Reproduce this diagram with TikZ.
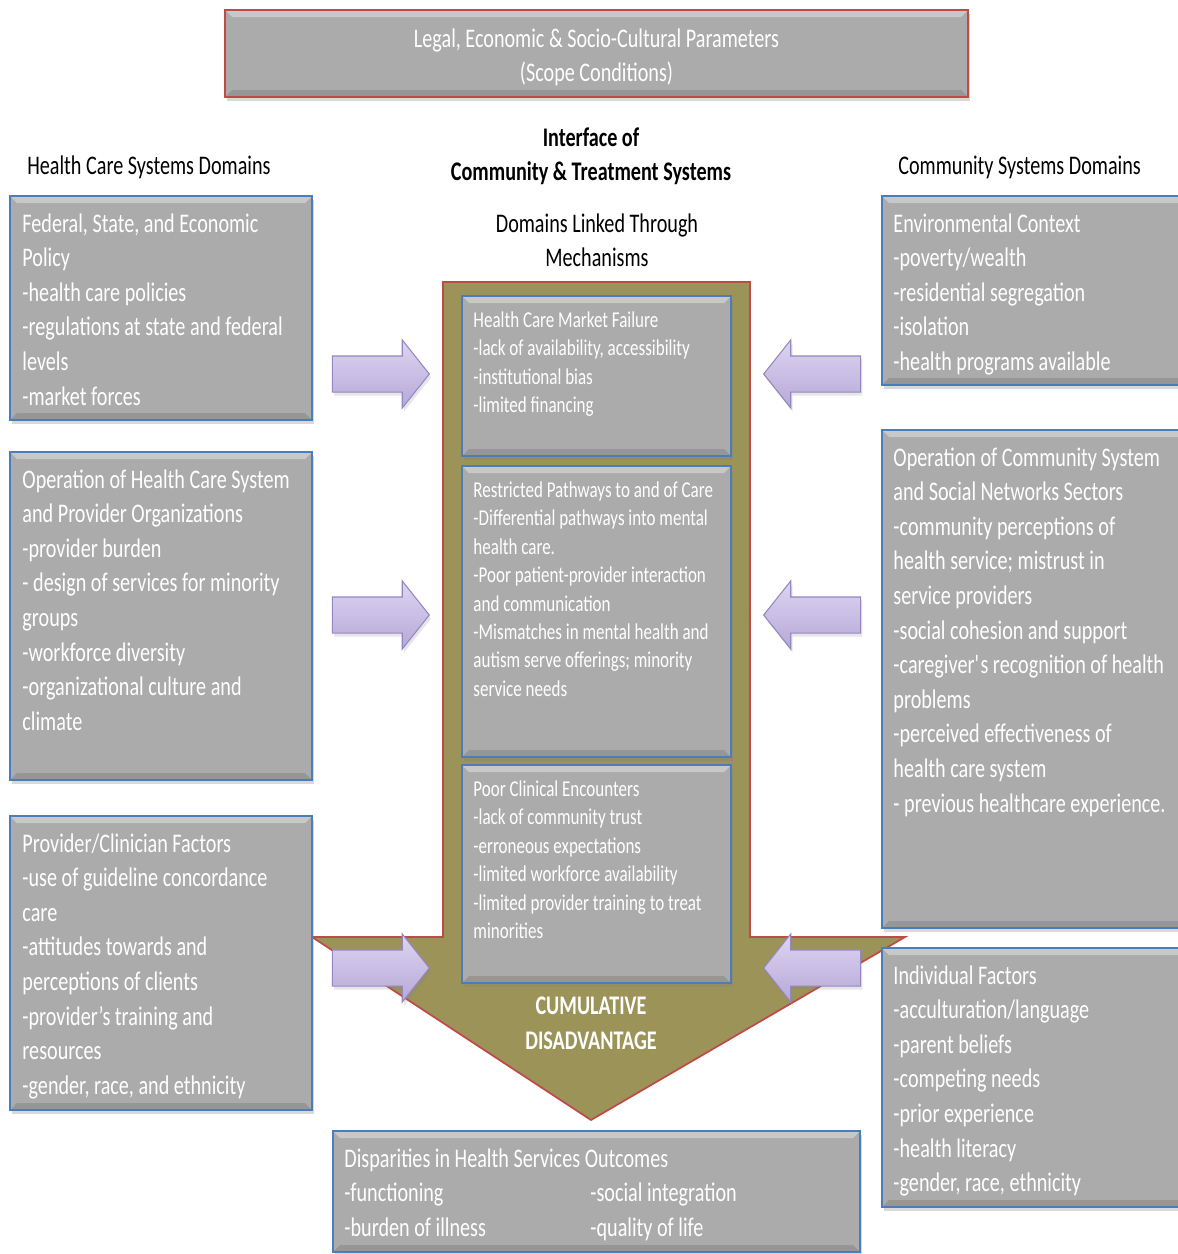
\documentclass[tikz,border=0pt]{standalone}
\usepackage{fontspec}
\setmainfont{Carlito}[FakeStretch=0.75]
\usetikzlibrary{shapes.arrows, positioning, fit, shadows}

\definecolor{boxgray}{HTML}{ABABAB}
\definecolor{boxblue}{HTML}{4A7EBB}
\definecolor{edgered}{HTML}{BE4B48}
\definecolor{cumolive}{HTML}{9C9358}
\definecolor{lilac}{HTML}{B6A8D8}
\definecolor{lilaclight}{HTML}{DDD5F0}
\definecolor{lilacedge}{HTML}{9586C2}

\newcommand{\bodyfont}{\fontsize{15.3}{19.7}\selectfont}
\newcommand{\mechfont}{\fontsize{12.9}{16.2}\selectfont}

\begin{document}
\begin{tikzpicture}[
    x=0.02cm, y=-0.02cm,
    bevel/.style={path picture={
        \fill[white, opacity=.35] (path picture bounding box.north west) -- (path picture bounding box.north east)
          -- ([shift={(-7,7)}]path picture bounding box.north east) -- ([shift={(7,7)}]path picture bounding box.north west) -- cycle;
        \fill[black, opacity=.12] (path picture bounding box.south west) -- (path picture bounding box.south east)
          -- ([shift={(-7,-7)}]path picture bounding box.south east) -- ([shift={(7,-7)}]path picture bounding box.south west) -- cycle;
      }},
    domainbox/.style={draw=boxblue, line width=1pt, fill=boxgray, inner sep=0pt, bevel,
      drop shadow={shadow xshift=1pt, shadow yshift=-2.5pt, opacity=.3}},
    scopebox/.style={domainbox, draw=edgered},
    bodytxt/.style={text=white, font=\bodyfont, align=left, inner sep=0pt, execute at begin node=\strut},
    mechtxt/.style={bodytxt, font=\mechfont},
    heading/.style={font=\bodyfont, inner sep=0pt, anchor=base west},
    titletxt/.style={font=\bodyfont, align=center, inner sep=0pt, anchor=north, execute at begin node=\strut},
    feed/.style={single arrow, anchor=tip, draw=lilacedge, line width=.6pt, top color=lilaclight, bottom color=lilac,
      minimum height=1.94cm, inner xsep=0pt, inner ysep=.35cm, single arrow head extend=.32cm,
      single arrow tip angle=103, drop shadow={shadow xshift=1pt, shadow yshift=-2pt, opacity=.2}},
    cumarrow/.style={fill=cumolive, draw=edgered, line width=1pt},
  ]
  \useasboundingbox (0,0) rectangle (1177,1254);

  % scope conditions
  \node[scopebox, fit={(225,10) (968,97)}] (scope) {};
  \node[bodytxt, align=center, anchor=north, below=.38cm of scope.north] (scopetxt)
    {Legal, Economic \& Socio-Cultural Parameters\\(Scope Conditions)};

  \node[heading] (hcsd) at (27,174) {Health Care Systems Domains};
  \node[heading] (csd) at (898,174) {Community Systems Domains};
  \node[titletxt, font=\bodyfont\bfseries] (iface) at (591,127) {Interface of\\Community \& Treatment Systems};
  \node[titletxt] (linked) at (597,213) {Domains Linked Through\\Mechanisms};

  % big arrow with the mechanisms
  \draw[cumarrow] (443,282) -- (750,282) -- (750,937) -- (905,937) -- (591,1120) -- (312,937) -- (443,937) -- cycle;
  \node[titletxt, font=\bodyfont\bfseries, text=white] (cumlabel) at (591,997) {CUMULATIVE\\DISADVANTAGE};

  \node[domainbox, fit={(462,296) (731,456)}] (failure) {};
  \node[mechtxt, below right=.32cm and .24cm of failure.north west] (failuretxt)
    {Health Care Market Failure\\-lack of availability, accessibility\\-institutional bias\\-limited financing};
  \node[domainbox, fit={(462,466) (731,757)}] (pathways) {};
  \node[mechtxt, below right=.32cm and .24cm of pathways.north west] (pathwaystxt)
    {Restricted Pathways to and of Care\\-Differential pathways into mental\\health care.\\-Poor patient-provider interaction\\and communication\\-Mismatches in mental health and\\autism serve offerings; minority\\service needs};
  \node[domainbox, fit={(462,765) (731,983)}] (encounters) {};
  \node[mechtxt, below right=.32cm and .24cm of encounters.north west] (encounterstxt)
    {Poor Clinical Encounters\\-lack of community trust\\-erroneous expectations\\-limited workforce availability\\-limited provider training to treat\\minorities};

  % health care systems domains
  \node[domainbox, fit={(10,196) (312,420)}] (policy) {};
  \node[bodytxt, below right=.36cm and .26cm of policy.north west] (policytxt)
    {Federal, State, and Economic\\Policy\\-health care policies\\-regulations at state and federal\\levels\\-market forces};
  \node[domainbox, fit={(10,452) (312,780)}] (hcsystem) {};
  \node[bodytxt, below right=.36cm and .26cm of hcsystem.north west] (hcsystemtxt)
    {Operation of Health Care System\\and Provider Organizations\\-provider burden\\- design of services for minority\\groups\\-workforce diversity\\-organizational culture and\\climate};
  \node[domainbox, fit={(10,816) (312,1110)}] (provider) {};
  \node[bodytxt, below right=.36cm and .26cm of provider.north west] (providertxt)
    {Provider/Clinician Factors\\-use of guideline concordance\\care\\-attitudes towards and\\perceptions of clients\\-provider’s training and\\resources\\-gender, race, and ethnicity};

  % community systems domains
  \node[domainbox, fit={(882,196) (1190,385)}] (environ) {};
  \node[bodytxt, below right=.36cm and .24cm of environ.north west] (environtxt)
    {Environmental Context\\-poverty/wealth\\-residential segregation\\-isolation\\-health programs available};
  \node[domainbox, fit={(882,430) (1190,928)}] (community) {};
  \node[bodytxt, below right=.36cm and .24cm of community.north west] (communitytxt)
    {Operation of Community System\\and Social Networks Sectors\\-community perceptions of\\health service; mistrust in\\service providers\\-social cohesion and support\\-caregiver\textquotesingle s recognition of health\\problems\\-perceived effectiveness of\\health care system\\- previous healthcare experience.};
  \node[domainbox, fit={(882,948) (1190,1207)}] (individual) {};
  \node[bodytxt, below right=.36cm and .24cm of individual.north west] (individualtxt)
    {Individual Factors\\-acculturation/language\\-parent beliefs\\-competing needs\\-prior experience\\-health literacy\\-gender, race, ethnicity};

  % outcomes
  \node[domainbox, fit={(333,1131) (860,1252)}] (outcomes) {};
  \node[bodytxt, below right=.36cm and .24cm of outcomes.north west] (outcomestxt)
    {Disparities in Health Services Outcomes\\\makebox[4.92cm][l]{-functioning}-social integration\\\makebox[4.92cm][l]{-burden of illness}-quality of life};

  % domains feeding the mechanisms
  \node[feed] (feedl1) at (430,374) {};
  \node[feed] (feedl2) at (430,615) {};
  \node[feed] (feedl3) at (430,968) {};
  \node[feed, shape border rotate=180] (feedr1) at (763,374) {};
  \node[feed, shape border rotate=180] (feedr2) at (763,615) {};
  \node[feed, shape border rotate=180] (feedr3) at (763,968) {};
\end{tikzpicture}
\end{document}
